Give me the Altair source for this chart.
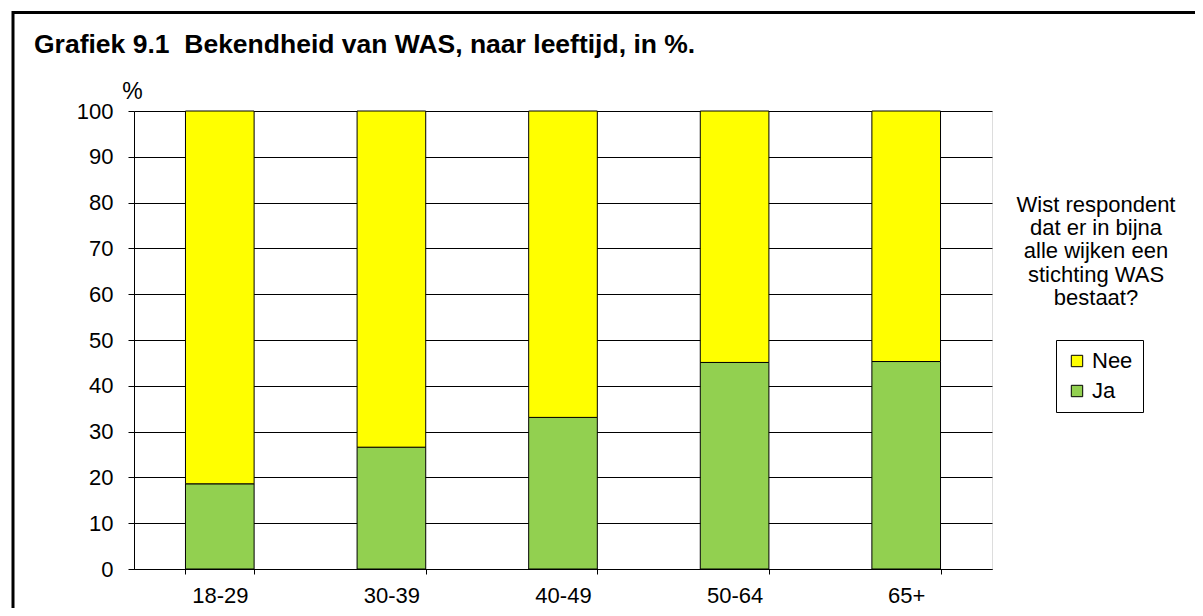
import altair as alt
import pandas as pd

categories = ["18-29", "30-39", "40-49", "50-64", "65+"]
ja_values = [18.6, 26.6, 33.1, 45.1, 45.3]
nee_values = [81.4, 73.4, 66.9, 54.9, 54.7]
series_names = ["Nee", "Ja"]
series_colors = ["#FFFF00", "#92D050"]
title_text = "Grafiek 9.1\u00a0\u00a0Bekendheid van WAS, naar leeftijd, in %."
legend_question = ["Wist respondent", "dat er in bijna", "alle wijken een", "stichting WAS", "bestaat?"]
y_ticks = list(range(0, 101, 10))

rows = []
for c, j, n in zip(categories, ja_values, nee_values):
    rows.append({"leeftijd": c, "antwoord": "Ja", "pct": j, "rank": 0})
    rows.append({"leeftijd": c, "antwoord": "Nee", "pct": n, "rank": 1})
df = pd.DataFrame(rows)

FONT = "Liberation Sans"

bars = alt.Chart(df).mark_bar(stroke="black", strokeWidth=1).encode(
    x=alt.X("leeftijd:N", sort=categories,
            scale=alt.Scale(paddingInner=0.6, paddingOuter=0.3),
            axis=alt.Axis(title=None, labelAngle=0, tickBand="extent", tickSize=5,
                          labelPadding=11, labelFontSize=22, labelFont=FONT,
                          labelColor="black", domainColor="black", tickColor="black",
                          grid=False)),
    y=alt.Y("pct:Q", stack="zero",
            scale=alt.Scale(domain=[0, 100], nice=False),
            axis=alt.Axis(values=y_ticks, title="%", titleAngle=0, titleX=-2, titleY=-13,
                          titleAlign="center", titleBaseline="alphabetic",
                          titleFontSize=23, titleFont=FONT, titleFontWeight="normal",
                          titleColor="black",
                          tickSize=6, labelPadding=15, labelFontSize=22, labelFont=FONT,
                          labelColor="black", domainColor="black", tickColor="black",
                          gridColor="black", gridWidth=1, gridOpacity=1)),
    color=alt.Color("antwoord:N",
                    scale=alt.Scale(domain=series_names, range=series_colors),
                    legend=alt.Legend(title=None, orient="none", legendX=922, legendY=229,
                                      strokeColor="black", padding=10,
                                      symbolType="square", symbolSize=130,
                                      symbolStrokeColor="black", symbolStrokeWidth=1,
                                      symbolOpacity=1,
                                      labelFontSize=22, labelFont=FONT, labelColor="black",
                                      rowPadding=8, labelOffset=4)),
    order=alt.Order("rank:Q"),
)

question = alt.Chart(pd.DataFrame({"t": [0]})).mark_text(
    font=FONT, fontSize=22, color="black", align="center", baseline="alphabetic",
    lineHeight=23.3
).encode(
    x=alt.value(962), y=alt.value(100.7), text=alt.value(legend_question)
)

title = alt.Chart(pd.DataFrame({"t": [0]})).mark_text(
    font=FONT, fontSize=26.5, fontWeight="bold", color="black", align="left",
    baseline="alphabetic"
).encode(
    x=alt.value(-100), y=alt.value(-58), text=alt.value(title_text)
)

frame = alt.Chart(pd.DataFrame({"t": [0]})).mark_rect(
    fill=None, fillOpacity=0, stroke="black", strokeWidth=3
).encode(
    x=alt.value(-121), x2=alt.value(1200), y=alt.value(-98.5), y2=alt.value(600)
)

chart = alt.layer(frame, bars, question, title).properties(
    width=858, height=458,
    padding={"left": 126, "top": 103, "right": 203, "bottom": 39},
    autosize=alt.AutoSizeParams(type="none"),
).configure_view(stroke="black", strokeWidth=1).configure(background="white")

chart.save("out.html", embed_options={"renderer": "svg", "actions": False})
